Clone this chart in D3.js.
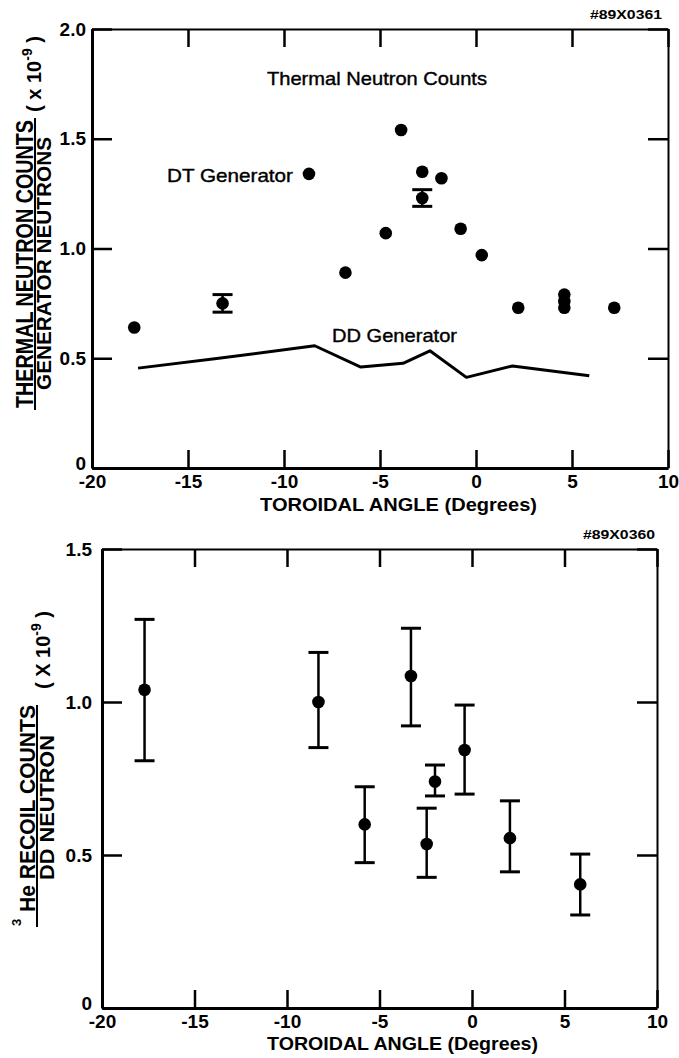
<!DOCTYPE html>
<html>
<head>
<meta charset="utf-8">
<script src="https://cdn.jsdelivr.net/npm/d3@7"></script>
<style>
  body { margin: 0; background: #fff; }
  svg { display: block; font-family: "Liberation Sans", Arial, Helvetica, sans-serif; }
  .axis path, .axis line { stroke: #000; }
  .axis text { font-size: 19px; font-weight: bold; fill: #000; font-family: "Liberation Sans", Arial, sans-serif; }
</style>
</head>
<body>
<div id="chart"></div>
<script>
// Tick values shared by both panels
var angleTicks = [-20, -15, -10, -5, 0, 5, 10];
var topValueTicks = [0, 0.5, 1.0, 1.5, 2.0];
var bottomValueTicks = [0, 0.5, 1.0, 1.5];

// Top panel: DT generator thermal neutron counts (two points carry error bars)
var dtAngle = [-17.8, -13.2, -8.7, -6.8, -4.7, -3.9, -2.8, -2.8, -1.8, -0.8, 0.3, 2.2, 4.6, 4.6, 4.6, 7.2];
var dtValue = [0.64, 0.75, 1.34, 0.89, 1.07, 1.54, 1.35, 1.23, 1.32, 1.09, 0.97, 0.73, 0.79, 0.76, 0.73, 0.73];
var dtError = [0, 0.04, 0, 0, 0, 0, 0, 0.038, 0, 0, 0, 0, 0, 0, 0, 0];

// Top panel: DD generator curve
var ddAngle = [-17.6, -13.4, -8.4, -6.0, -3.8, -2.4, -0.5, 1.9, 5.9];
var ddValue = [0.455, 0.50, 0.557, 0.46, 0.477, 0.534, 0.413, 0.465, 0.42];

// Bottom panel: 3He recoil counts per DD neutron, with error bars
var heAngle = [-17.7, -8.3, -5.8, -3.3, -2.45, -2.0, -0.4, 2.05, 5.85];
var heValue = [1.04, 1.00, 0.60, 1.085, 0.536, 0.74, 0.843, 0.555, 0.404];
var heLow = [0.808, 0.851, 0.475, 0.922, 0.427, 0.693, 0.699, 0.445, 0.304];
var heHigh = [1.270, 1.162, 0.723, 1.241, 0.653, 0.794, 0.99, 0.677, 0.503];

var svgWidth = 679;
var svgHeight = 1058;

var svg = d3.select("#chart")
  .append("svg")
  .attr("width", svgWidth)
  .attr("height", svgHeight);

svg.append("rect")
  .attr("width", svgWidth)
  .attr("height", svgHeight)
  .attr("fill", "#fff");

// Draws the four-sided frame with inward ticks
function drawFrame(g, x, y, valueTicks, leftPad) {
  var w = x.range()[1];
  var h = y.range()[0];

  var bottom = g.append("g")
    .attr("class", "axis")
    .attr("transform", `translate(0, ${h})`)
    .call(d3.axisBottom(x).tickValues(angleTicks).tickSize(-18).tickSizeOuter(0)
      .tickPadding(7).tickFormat(d => String(d)));

  var left = g.append("g")
    .attr("class", "axis")
    .call(d3.axisLeft(y).tickValues(valueTicks).tickSize(-20).tickSizeOuter(0)
      .tickPadding(leftPad).tickFormat(d => d === 0 ? "0" : d3.format(".1f")(d)));

  var top = g.append("g")
    .attr("class", "axis")
    .call(d3.axisTop(x).tickValues(angleTicks).tickSize(-18).tickSizeOuter(0).tickFormat(""));

  var right = g.append("g")
    .attr("class", "axis")
    .attr("transform", `translate(${w}, 0)`)
    .call(d3.axisRight(y).tickValues(valueTicks).tickSize(-20).tickSizeOuter(0).tickFormat(""));

  bottom.select(".domain").attr("stroke-width", 3);
  left.select(".domain").attr("stroke-width", 3);
  top.select(".domain").attr("stroke-width", 2);
  right.select(".domain").attr("stroke-width", 2);
  g.selectAll(".tick line").attr("stroke-width", 2.5);

  // the zero label sits a little above the corner
  left.selectAll(".tick text").filter(d => d === 0).attr("dy", "0.1em");
}

function errorBars(g, xs, ys, capWidth) {
  g.selectAll(null)
    .data(xs)
    .enter()
    .append("path")
    .attr("d", d => `M${d.x},${ys(d.lo)}V${ys(d.hi)}`)
    .attr("stroke", "#000")
    .attr("stroke-width", 2.5);

  g.selectAll(null)
    .data(xs.flatMap(d => [{ x: d.x, v: d.lo }, { x: d.x, v: d.hi }]))
    .enter()
    .append("path")
    .attr("d", d => `M${d.x - capWidth / 2},${ys(d.v)}h${capWidth}`)
    .attr("stroke", "#000")
    .attr("stroke-width", 3);
}

// ---------------- Top panel ----------------
var topGroup = svg.append("g").attr("transform", "translate(92, 29)");

var xTop = d3.scaleLinear().domain([-20, 10]).range([0, 576]);
var yTop = d3.scaleLinear().domain([0, 2]).range([439, 0]);

drawFrame(topGroup, xTop, yTop, topValueTicks, 6);

var dtData = dtAngle.map((a, i) => ({ angle: a, value: dtValue[i], err: dtError[i] }));
var ddData = ddAngle.map((a, i) => ({ angle: a, value: ddValue[i] }));

topGroup.append("path")
  .datum(ddData)
  .attr("fill", "none")
  .attr("stroke", "#000")
  .attr("stroke-width", 3)
  .attr("stroke-linejoin", "round")
  .attr("d", d3.line().x(d => xTop(d.angle)).y(d => yTop(d.value)));

errorBars(topGroup,
  dtData.filter(d => d.err > 0).map(d => ({ x: xTop(d.angle), lo: d.value - d.err, hi: d.value + d.err })),
  yTop, 20);

topGroup.selectAll("circle")
  .data(dtData)
  .enter()
  .append("circle")
  .attr("cx", d => xTop(d.angle))
  .attr("cy", d => yTop(d.value))
  .attr("r", 6.3)
  .attr("fill", "#000");

topGroup.append("text")
  .attr("x", 175).attr("y", 56)
  .attr("font-size", "19px")
  .attr("textLength", 220).attr("lengthAdjust", "spacingAndGlyphs")
  .attr("stroke", "#000").attr("stroke-width", 0.4)
  .text("Thermal Neutron Counts");

topGroup.append("text")
  .attr("x", 75).attr("y", 153)
  .attr("font-size", "19px")
  .attr("textLength", 126).attr("lengthAdjust", "spacingAndGlyphs")
  .attr("stroke", "#000").attr("stroke-width", 0.4)
  .text("DT Generator");

topGroup.append("text")
  .attr("x", 240).attr("y", 313)
  .attr("font-size", "19px")
  .attr("textLength", 125).attr("lengthAdjust", "spacingAndGlyphs")
  .attr("stroke", "#000").attr("stroke-width", 0.4)
  .text("DD Generator");

svg.append("text")
  .attr("x", 590).attr("y", 18.5)
  .attr("font-size", "12px").style("font-weight", "bold")
  .attr("textLength", 72).attr("lengthAdjust", "spacingAndGlyphs")
  .text("#89X0361");

svg.append("text")
  .attr("x", 398.5).attr("y", 511)
  .attr("text-anchor", "middle")
  .attr("font-size", "19px").style("font-weight", "bold")
  .attr("textLength", 277).attr("lengthAdjust", "spacingAndGlyphs")
  .text("TOROIDAL ANGLE (Degrees)");

// rotated y title, fraction form
svg.append("text")
  .attr("transform", "translate(33, 264) rotate(-90)")
  .attr("text-anchor", "middle")
  .attr("font-size", "24px").style("font-weight", "bold")
  .attr("textLength", 288).attr("lengthAdjust", "spacingAndGlyphs")
  .text("THERMAL NEUTRON COUNTS");

svg.append("line")
  .attr("x1", 35).attr("x2", 35)
  .attr("y1", 118).attr("y2", 410)
  .attr("stroke", "#000").attr("stroke-width", 2);

svg.append("text")
  .attr("transform", "translate(50.5, 263.5) rotate(-90)")
  .attr("text-anchor", "middle")
  .attr("font-size", "21px").style("font-weight", "bold")
  .attr("textLength", 253).attr("lengthAdjust", "spacingAndGlyphs")
  .text("GENERATOR NEUTRONS");

var topUnit = svg.append("text")
  .attr("transform", "translate(41, 74) rotate(-90)")
  .attr("text-anchor", "middle")
  .attr("font-size", "20px").style("font-weight", "bold");
topUnit.append("tspan").text("( x 10");
topUnit.append("tspan").attr("dy", -9).attr("font-size", "14px").text("-9");
topUnit.append("tspan").attr("dy", 9).text(" )");

// ---------------- Bottom panel ----------------
var bottomGroup = svg.append("g").attr("transform", "translate(102, 549)");

var xBottom = d3.scaleLinear().domain([-20, 10]).range([0, 555]);
var yBottom = d3.scaleLinear().domain([0, 1.5]).range([459, 0]);

drawFrame(bottomGroup, xBottom, yBottom, bottomValueTicks, 10);

var heData = heAngle.map((a, i) => ({ angle: a, value: heValue[i], lo: heLow[i], hi: heHigh[i] }));

errorBars(bottomGroup,
  heData.map(d => ({ x: xBottom(d.angle), lo: d.lo, hi: d.hi })),
  yBottom, 20);

bottomGroup.selectAll("circle")
  .data(heData)
  .enter()
  .append("circle")
  .attr("cx", d => xBottom(d.angle))
  .attr("cy", d => yBottom(d.value))
  .attr("r", 6.3)
  .attr("fill", "#000");

svg.append("text")
  .attr("x", 583).attr("y", 539)
  .attr("font-size", "12px").style("font-weight", "bold")
  .attr("textLength", 72).attr("lengthAdjust", "spacingAndGlyphs")
  .text("#89X0360");

svg.append("text")
  .attr("x", 402.5).attr("y", 1050)
  .attr("text-anchor", "middle")
  .attr("font-size", "19px").style("font-weight", "bold")
  .attr("textLength", 271).attr("lengthAdjust", "spacingAndGlyphs")
  .text("TOROIDAL ANGLE (Degrees)");

svg.append("text")
  .attr("transform", "translate(21, 926) rotate(-90)")
  .attr("font-size", "13px").style("font-weight", "bold")
  .text("3");

svg.append("text")
  .attr("transform", "translate(35, 912) rotate(-90)")
  .attr("font-size", "22px").style("font-weight", "bold")
  .attr("textLength", 207).attr("lengthAdjust", "spacingAndGlyphs")
  .text("He RECOIL COUNTS");

svg.append("line")
  .attr("x1", 37).attr("x2", 37)
  .attr("y1", 705).attr("y2", 927)
  .attr("stroke", "#000").attr("stroke-width", 2);

svg.append("text")
  .attr("transform", "translate(53.5, 807.5) rotate(-90)")
  .attr("text-anchor", "middle")
  .attr("font-size", "21px").style("font-weight", "bold")
  .attr("textLength", 145).attr("lengthAdjust", "spacingAndGlyphs")
  .text("DD NEUTRON");

var bottomUnit = svg.append("text")
  .attr("transform", "translate(50, 650) rotate(-90)")
  .attr("text-anchor", "middle")
  .attr("font-size", "20px").style("font-weight", "bold");
bottomUnit.append("tspan").text("( X 10");
bottomUnit.append("tspan").attr("dy", -9).attr("font-size", "14px").text("-9");
bottomUnit.append("tspan").attr("dy", 9).text(" )");
</script>
</body>
</html>
